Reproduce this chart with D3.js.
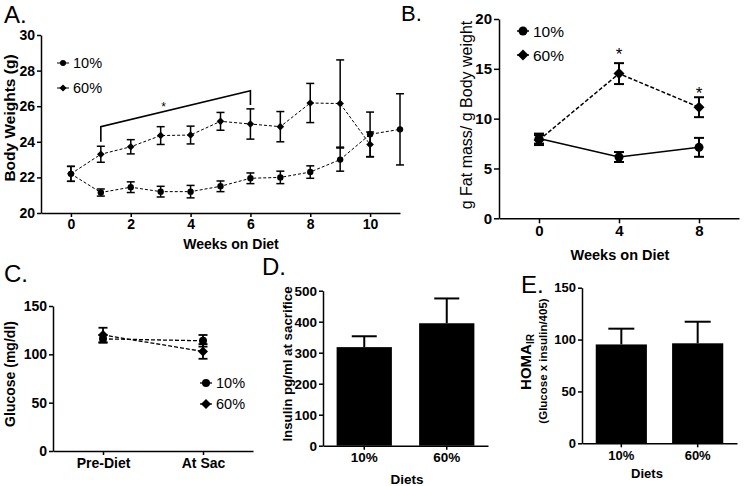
<!doctype html>
<html>
<head>
<meta charset="UTF-8">
<script src="https://cdn.jsdelivr.net/npm/d3@7/dist/d3.min.js"></script>
<style>
body { margin: 0; background: #fff; }
text { font-family: Arial, "Liberation Sans", sans-serif; fill: #000; }
</style>
</head>
<body>
<svg id="fig" width="744" height="486"></svg>
<script>
// ---- panel A : body weights ----
var weeksA = [0, 1, 2, 3, 4, 5, 6, 7, 8, 9, 10, 11];
var lowA = [22.2, 21.15, 21.45, 21.2, 21.2, 21.5, 21.95, 22.0, 22.3, 23.0, 24.42, 24.7];
var lowErrA = [0.42, 0.2, 0.3, 0.3, 0.35, 0.3, 0.3, 0.35, 0.35, 0.65, 1.25, 2.0];
var weeksA60 = [0, 1, 2, 3, 4, 5, 6, 7, 8, 9, 10];
var highA = [22.2, 23.3, 23.72, 24.35, 24.38, 25.15, 25.0, 24.85, 26.18, 26.15, 23.85];
var highErrA = [0.42, 0.45, 0.4, 0.5, 0.5, 0.5, 0.85, 0.85, 1.1, 2.45, 0.7];
var bracketA = [[1, 24.0], [1, 24.85], [6, 26.87], [6, 26.07]];
var starA = [3.1, 26.1];

// ---- panel B : fat mass ----
var weeksB = [0, 4, 8];
var lowB = [8.0, 6.15, 7.12];
var lowErrB = [0.5, 0.5, 0.95];
var highB = [7.85, 14.52, 11.15];
var highErrB = [0.5, 1.05, 1.0];
var starsB = [[4, 16.9], [8, 12.97]];

// ---- panel C : glucose ----
var catsC = ["Pre-Diet", "At Sac"];
var lowC = [116, 114];
var lowErrC = [4, 6];
var highC = [120, 103];
var highErrC = [7.5, 7.6];

// ---- panel D / E : bars ----
var diets = ["10%", "60%"];
var insulin = [318, 395];
var insulinErr = [35, 80];
var homa = [95.3, 96.4];
var homaErr = [15.2, 20.8];

var svg = d3.select("#fig");
var FONT = "Arial, 'Liberation Sans', sans-serif";

function styleAxis(ax, fs) {
    ax.attr("font-size", fs).attr("font-family", FONT).attr("font-weight", "bold");
    ax.select(".domain").attr("stroke", "#000").attr("stroke-width", 1.5);
    ax.selectAll(".tick line").attr("stroke", "#000").attr("stroke-width", 1.5);
    ax.selectAll(".tick text").attr("fill", "#000");
}

function marker(g, type, cx, cy, s) {
    if (type == "circle") {
        g.append("circle").attr("cx", cx).attr("cy", cy).attr("r", s).attr("fill", "#000");
    } else {
        g.append("path")
            .attr("d", d3.symbol(d3.symbolSquare, 2 * s * s)())
            .attr("transform", "translate(" + cx + "," + cy + ") rotate(45)")
            .attr("fill", "#000");
    }
}

function errBar(g, cx, y0, y1, cap, lw, both) {
    g.append("line").attr("x1", cx).attr("x2", cx).attr("y1", y0).attr("y2", y1)
        .attr("stroke", "#000").attr("stroke-width", lw);
    g.append("line").attr("x1", cx - cap / 2).attr("x2", cx + cap / 2).attr("y1", y1).attr("y2", y1)
        .attr("stroke", "#000").attr("stroke-width", lw);
    if (both) {
        g.append("line").attr("x1", cx - cap / 2).attr("x2", cx + cap / 2).attr("y1", y0).attr("y2", y0)
            .attr("stroke", "#000").attr("stroke-width", lw);
    }
}

function series(g, xs, ys, errs, x, y, o) {
    var pts = xs.map(function(d, i) { return [x(d), y(ys[i])]; });
    g.append("path").attr("d", d3.line()(pts)).attr("fill", "none")
        .attr("stroke", "#000").attr("stroke-width", o.lw)
        .attr("stroke-dasharray", o.dash || null);
    xs.forEach(function(d, i) {
        errBar(g, x(d), y(ys[i] - errs[i]), y(ys[i] + errs[i]), o.cap, o.elw, true);
    });
    pts.forEach(function(p) { marker(g, o.type, p[0], p[1], o.size); });
}

function legend(g, type, cx, cy, label, s, fs, lw) {
    g.append("line").attr("x1", cx - 6).attr("x2", cx + 6).attr("y1", cy).attr("y2", cy)
        .attr("stroke", "#000").attr("stroke-width", lw);
    marker(g, type, cx, cy, s);
    g.append("text").attr("x", cx + 10).attr("y", cy).attr("dy", "0.36em")
        .attr("font-size", fs).text(label);
}

function ylabel(g, cx, cy, txt, fs, weight) {
    return g.append("text").attr("transform", "translate(" + cx + "," + cy + ") rotate(-90)")
        .attr("text-anchor", "middle").attr("dy", "0.36em")
        .attr("font-size", fs).attr("font-weight", weight).text(txt);
}

function panelLetter(x, y, t, fs) {
    svg.append("text").attr("x", x).attr("y", y).attr("font-size", fs || 24)
        .style("font-family", "'Liberation Sans Narrow', 'Arial Narrow', Arial, sans-serif").text(t);
}

// ================= A =================
var gA = svg.append("g");
var xA = d3.scaleLinear().domain([-1, 11]).range([41, 400]);
var yA = d3.scaleLinear().domain([20, 30]).range([213, 35]);
gA.append("g").attr("transform", "translate(0,213)")
    .call(d3.axisBottom(xA).tickValues([0, 2, 4, 6, 8, 10]).tickSize(4).tickPadding(2).tickSizeOuter(0))
    .call(styleAxis, 14);
gA.append("g").attr("transform", "translate(41,0)")
    .call(d3.axisLeft(yA).tickValues([20, 22, 24, 26, 28, 30]).tickSize(4).tickPadding(2).tickSizeOuter(0))
    .call(styleAxis, 14);
series(gA, weeksA, lowA, lowErrA, xA, yA, {lw: 1, dash: "3,2", cap: 8, elw: 1.5, type: "circle", size: 3.2});
series(gA, weeksA60, highA, highErrA, xA, yA, {lw: 1, dash: "3,2", cap: 8, elw: 1.5, type: "diamond", size: 3.8});
gA.append("path").attr("d", d3.line()(bracketA.map(function(p) { return [xA(p[0]), yA(p[1])]; })))
    .attr("fill", "none").attr("stroke", "#000").attr("stroke-width", 1.6);
gA.append("text").attr("x", xA(starA[0])).attr("y", yA(starA[1])).attr("dy", "0.57em")
    .attr("text-anchor", "middle").attr("font-size", 12).text("*");
legend(gA, "circle", 63, 63, "10%", 3, 14.5, 1);
legend(gA, "diamond", 63, 88, "60%", 3.6, 14.5, 1);
ylabel(gA, 9, 118, "Body Weights (g)", 15.5, "bold");
gA.append("text").attr("x", 231).attr("y", 244).attr("dy", "0.36em").attr("text-anchor", "middle")
    .attr("font-size", 14).attr("font-weight", "bold").text("Weeks on Diet");
panelLetter(4, 23, "A.");

// ================= B =================
var gB = svg.append("g");
var xB = d3.scaleLinear().domain([-2, 10]).range([499, 739]);
var yB = d3.scaleLinear().domain([0, 20]).range([218.3, 19]);
gB.append("g").attr("transform", "translate(0,218.3)")
    .call(d3.axisBottom(xB).tickValues(weeksB).tickSize(5).tickPadding(2).tickSizeOuter(0))
    .call(styleAxis, 15);
gB.append("g").attr("transform", "translate(499,0)")
    .call(d3.axisLeft(yB).tickValues([0, 5, 10, 15, 20]).tickSize(5).tickPadding(2).tickSizeOuter(0))
    .call(styleAxis, 15);
series(gB, weeksB, lowB, lowErrB, xB, yB, {lw: 1.5, cap: 10, elw: 2, type: "circle", size: 4.5});
series(gB, weeksB, highB, highErrB, xB, yB, {lw: 1.5, dash: "4,2", cap: 10, elw: 2, type: "diamond", size: 5.5});
starsB.forEach(function(s) {
    gB.append("text").attr("x", xB(s[0])).attr("y", yB(s[1])).attr("dy", "0.57em")
        .attr("text-anchor", "middle").attr("font-size", 17).text("*");
});
legend(gB, "circle", 523, 31, "10%", 4.5, 15.5, 1.5);
legend(gB, "diamond", 523, 55, "60%", 5.5, 15.5, 1.5);
ylabel(gB, 466, 115, "g Fat mass/ g Body weight", 16, "normal");
gB.append("text").attr("x", 620).attr("y", 255).attr("dy", "0.36em").attr("text-anchor", "middle")
    .attr("font-size", 14.5).attr("font-weight", "bold").text("Weeks on Diet");
panelLetter(401, 21, "B.", 22);

// ================= C =================
var gC = svg.append("g");
var xC = d3.scalePoint().domain(catsC).range([53, 253]).padding(0.5);
var yC = d3.scaleLinear().domain([0, 150]).range([451, 306]);
gC.append("g").attr("transform", "translate(0,451)")
    .call(d3.axisBottom(xC).tickSize(4).tickPadding(3).tickSizeOuter(0))
    .call(styleAxis, 14);
gC.append("g").attr("transform", "translate(53,0)")
    .call(d3.axisLeft(yC).tickValues([0, 50, 100, 150]).tickSize(4).tickPadding(2).tickSizeOuter(0))
    .call(styleAxis, 14);
series(gC, catsC, lowC, lowErrC, xC, yC, {lw: 1.3, dash: "4,2", cap: 9, elw: 1.8, type: "circle", size: 4});
series(gC, catsC, highC, highErrC, xC, yC, {lw: 1.3, dash: "4,2", cap: 9, elw: 1.8, type: "diamond", size: 5});
legend(gC, "circle", 206, 383, "10%", 4, 14.5, 1.3);
legend(gC, "diamond", 206, 404, "60%", 5, 14.5, 1.3);
ylabel(gC, 10, 374, "Glucose (mg/dl)", 14, "bold");
panelLetter(4, 282, "C.");

// ================= D =================
var gD = svg.append("g");
var xD = d3.scaleBand().domain(diets).range([323, 488]).paddingInner(0.33).paddingOuter(0.165);
var yD = d3.scaleLinear().domain([0, 500]).range([445.7, 290.7]);
gD.selectAll("rect").data(diets).enter().append("rect")
    .attr("x", function(d) { return xD(d); })
    .attr("y", function(d, i) { return yD(insulin[i]); })
    .attr("width", xD.bandwidth())
    .attr("height", function(d, i) { return yD(0) - yD(insulin[i]); })
    .attr("fill", "#000");
diets.forEach(function(d, i) {
    errBar(gD, xD(d) + xD.bandwidth() / 2, yD(insulin[i]), yD(insulin[i] + insulinErr[i]), 25, 2, false);
});
gD.append("g").attr("transform", "translate(0,445.7)")
    .call(d3.axisBottom(xD).tickSize(4).tickPadding(3).tickSizeOuter(0))
    .call(styleAxis, 13.5);
gD.append("g").attr("transform", "translate(323,0)")
    .call(d3.axisLeft(yD).tickValues([0, 100, 200, 300, 400, 500]).tickSize(4).tickPadding(2).tickSizeOuter(0))
    .call(styleAxis, 13.5);
ylabel(gD, 287, 364, "Insulin pg/ml at sacrifice", 13.3, "bold");
gD.append("text").attr("x", 407).attr("y", 479).attr("dy", "0.36em").attr("text-anchor", "middle")
    .attr("font-size", 13.5).attr("font-weight", "bold").text("Diets");
panelLetter(262, 275, "D.");

// ================= E =================
var gE = svg.append("g");
var xE = d3.scaleBand().domain(diets).range([582, 737]).paddingInner(0.33).paddingOuter(0.18);
var yE = d3.scaleLinear().domain([0, 150]).range([443.3, 287.7]);
gE.selectAll("rect").data(diets).enter().append("rect")
    .attr("x", function(d) { return xE(d); })
    .attr("y", function(d, i) { return yE(homa[i]); })
    .attr("width", xE.bandwidth())
    .attr("height", function(d, i) { return yE(0) - yE(homa[i]); })
    .attr("fill", "#000");
diets.forEach(function(d, i) {
    errBar(gE, xE(d) + xE.bandwidth() / 2, yE(homa[i]), yE(homa[i] + homaErr[i]), 26, 2, false);
});
gE.append("g").attr("transform", "translate(0,443.3)")
    .call(d3.axisBottom(xE).tickSize(4).tickPadding(3).tickSizeOuter(0))
    .call(styleAxis, 13);
gE.append("g").attr("transform", "translate(582,0)")
    .call(d3.axisLeft(yE).tickValues([0, 50, 100, 150]).tickSize(4).tickPadding(2).tickSizeOuter(0))
    .call(styleAxis, 13);
var homaLbl = gE.append("text").attr("transform", "translate(526,362) rotate(-90)")
    .attr("text-anchor", "middle").attr("dy", "0.36em")
    .attr("font-size", 15).attr("font-weight", "bold");
homaLbl.append("tspan").text("HOMA");
homaLbl.append("tspan").attr("font-size", 10).attr("dy", "0.3em").text("IR");
ylabel(gE, 543, 361, "(Glucose x insulin/405)", 11.5, "bold");
gE.append("text").attr("x", 647).attr("y", 473).attr("dy", "0.36em").attr("text-anchor", "middle")
    .attr("font-size", 13).attr("font-weight", "bold").text("Diets");
panelLetter(521, 293, "E.");
</script>
</body>
</html>
